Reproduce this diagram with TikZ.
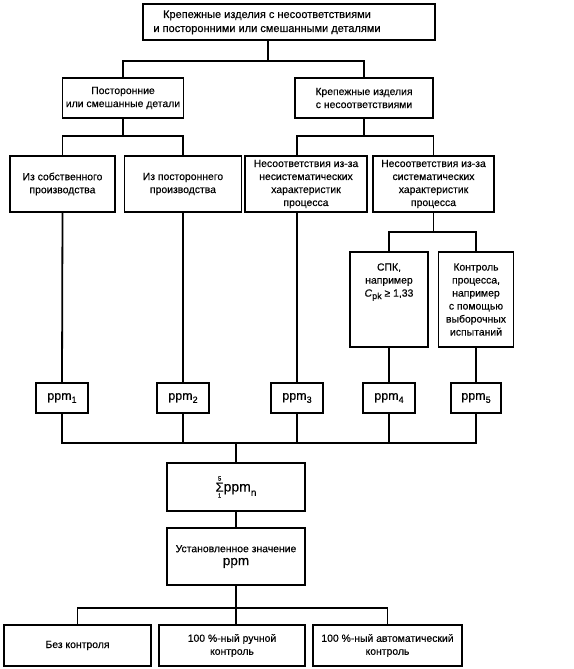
\documentclass[tikz,border=0pt]{standalone}
\usepackage{fontspec}
\setmainfont{Liberation Sans}[FakeBold=0.4]
\usetikzlibrary{positioning}
\tikzset{
  blkbox/.style  = {draw, line width=1.6pt, align=center, inner sep=2pt,
                    font=\fontsize{10.4}{13}\selectfont},
  blkppm/.style  = {blkbox, minimum width=52pt, minimum height=30pt,
                    font=\fontsize{12.5}{14}\selectfont},
  blkbot/.style  = {blkbox, minimum height=41pt},
  link/.style    = {line width=1.8pt},
}
\newcommand{\lowsub}[1]{\raisebox{-0.45ex}{\fontsize{9}{9}\selectfont #1}}

\begin{document}
\begin{tikzpicture}[x=1pt, y=-1pt]
    \useasboundingbox (0,0) rectangle (573,669);

    % Level 0 and 1
    \node[blkbox, minimum width=292pt, minimum height=36pt,
          font=\fontsize{11}{15}\selectfont] (top) at (289,22)
          {\begin{tabular}{@{}c@{}}Крепежные изделия с несоответствиями\\[-1pt]
           и посторонними или смешанными деталями\end{tabular}\kern44pt};
    \node[blkbox, minimum width=121pt, minimum height=40pt] (ext) at (123,98)
          {Посторонние\\или смешанные детали};
    \node[blkbox, minimum width=138pt, minimum height=40pt] (nc)  at (364,98)
          {Крепежные изделия\\с несоответствиями};

    % Level 2 : sources of ppm
    \node[blkbox, minimum width=105pt, minimum height=56pt] (own)     at (62.5,184)
          {Из собственного\\производства};
    \node[blkbox, minimum width=117pt, minimum height=56pt] (foreign) at (183,184)
          {Из постороннего\\производства};
    \node[blkbox, minimum width=122pt, minimum height=56pt] (nonsys)  at (306,184)
          {Несоответствия из-за\\несистематических\\характеристик\\процесса};
    \node[blkbox, minimum width=121pt, minimum height=56pt] (sys)     at (433.5,184)
          {Несоответствия из-за\\систематических\\характеристик\\процесса};
    \node[blkbox, minimum width=78pt, minimum height=95pt]  (spc)     at (389,299.5)
          {СПК,\\например\\\textit{C}\lowsub{pk} ≥ 1,33\\\mbox{}\\\mbox{}\\\mbox{}};
    \node[blkbox, minimum width=75pt, minimum height=95pt]  (pctrl)   at (476,299.5)
          {Контроль\\процесса,\\например\\с помощью\\выборочных\\испытаний};

    % Level 3 : ppm row
    \node[blkppm] (ppm1) at (62,398)  {ppm\lowsub{1}};
    \node[blkppm] (ppm2) at (183,398) {ppm\lowsub{2}};
    \node[blkppm] (ppm3) at (297,398) {ppm\lowsub{3}};
    \node[blkppm] (ppm4) at (389,398) {ppm\lowsub{4}};
    \node[blkppm, minimum width=50pt] (ppm5) at (476,398) {ppm\lowsub{5}};

    % Level 4 : sum and target
    \node[blkbox, minimum width=138pt, minimum height=48pt,
          font=\fontsize{14}{16}\selectfont] (sum) at (236,487)
          {$\mathop{\hbox{\fontsize{13}{13}\selectfont Σ}}\limits_{\hbox{\fontsize{6}{6}\selectfont 1}}^{\hbox{\fontsize{6}{6}\selectfont 5}}$ppm\raisebox{-0.6ex}{\fontsize{10}{10}\selectfont n}};
    \node[blkbox, minimum width=138pt, minimum height=57pt] (target) at (236,556.5)
          {Установленное значение\\{\fontsize{13.5}{15}\selectfont ppm}};

    % Level 5 : inspection
    \node[blkbot, minimum width=147pt] (none)   at (77.5,645.5) {Без контроля};
    \node[blkbot, minimum width=146pt] (manual) at (232,645.5)
          {100 \%-ный ручной\\контроль};
    \node[blkbot, minimum width=149pt] (auto)   at (387.5,645.5)
          {100 \%-ный автоматический\\контроль};

    % Connectors
    \coordinate (j0) at (268,61);
    \draw[link] (top.south -| j0) -- (j0);
    \draw[link] (ext.north) |- (j0) -| (nc.north);

    \coordinate (j1) at (ext.south |- 0,136);
    \draw[link] (ext.south) -- (j1);
    \draw[link] (own.north) |- (j1) -| (foreign.north);

    \coordinate (j2) at (nc.south |- 0,136);
    \draw[link] (nc.south) -- (j2);
    \draw[link] (nonsys.north -| ppm3.north) |- (j2) -| (sys.north);

    \coordinate (j3) at (sys.south |- 0,232);
    \draw[link] (sys.south) -- (j3);
    \draw[link] (spc.north) |- (j3) -| (pctrl.north);

    \draw[link] (own.south) -- (ppm1.north);
    \draw[link] (foreign.south) -- (ppm2.north);
    \draw[link] (nonsys.south -| ppm3.north) -- (ppm3.north);
    \draw[link] (spc.south) -- (ppm4.north);
    \draw[link] (pctrl.south) -- (ppm5.north);

    \coordinate (j4) at (sum.north |- 0,443);
    \draw[link] (ppm1.south) |- (j4) -| (ppm5.south);
    \foreach \k in {2,3,4}
      \draw[link] (ppm\k.south) -- (ppm\k.south |- j4);
    \draw[link] (j4) -- (sum.north);

    \draw[link] (sum.south) -- (target.north);
    \coordinate (j5) at (target.south |- 0,608);
    \draw[link] (target.south) -- (target.south |- manual.north);
    \draw[link] (none.north) |- (j5) -| (auto.north);
\end{tikzpicture}
\end{document}
